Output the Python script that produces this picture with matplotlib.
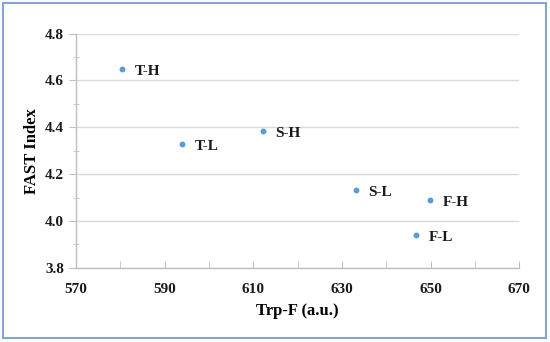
import matplotlib
matplotlib.use("Agg")
import matplotlib.pyplot as plt
from matplotlib.patches import Rectangle
from matplotlib.ticker import MultipleLocator, FixedLocator

labels = ["T-H", "T-L", "S-H", "S-L", "F-H", "F-L"]
trp_f = [580.4, 593.9, 612.1, 633.1, 649.9, 646.8]
fast_index = [4.65, 4.329, 4.385, 4.132, 4.091, 3.941]
x_ticks = [570, 590, 610, 630, 650, 670]

plt.rcParams['font.family'] = ['Liberation Serif', 'DejaVu Serif']

fig = plt.figure(figsize=(5.5, 3.42), dpi=100)
ax = fig.add_axes([0.138, 0.217, 0.806, 0.685])

ax.scatter(trp_f, fast_index, s=18, color='#5B9BD5', zorder=3, linewidths=0)
for x, y, t in zip(trp_f, fast_index, labels):
    ax.annotate(t, (x, y), xytext=(9, -2), textcoords='offset points',
                fontsize=11, fontweight='bold', va='center', ha='left', color='#1a1a1a')

ax.set_xlim(570, 670)
ax.set_ylim(3.8, 4.8)
ax.xaxis.set_major_locator(FixedLocator(x_ticks))
ax.xaxis.set_minor_locator(MultipleLocator(10))
ax.yaxis.set_major_locator(MultipleLocator(0.2))
ax.yaxis.set_minor_locator(MultipleLocator(0.1))
ax.yaxis.set_major_formatter(plt.FuncFormatter(lambda v, p: f"{v:.1f}"))

ax.grid(axis='y', which='major', color='#d9d9d9', linewidth=1)
ax.set_axisbelow(True)
for s in ['top', 'right']:
    ax.spines[s].set_visible(False)
for s in ['left', 'bottom']:
    ax.spines[s].set_color('#bfbfbf')
    ax.spines[s].set_linewidth(1)

ax.tick_params(axis='both', which='both', color='#bfbfbf', labelsize=11, labelcolor='#1a1a1a')
ax.tick_params(axis='y', which='major', direction='out', length=5)
ax.tick_params(axis='y', which='minor', direction='inout', length=5)
ax.tick_params(axis='x', which='both', direction='in', length=5)
ax.tick_params(axis='x', which='major', pad=11)
for lab in ax.get_xticklabels() + ax.get_yticklabels():
    lab.set_fontweight('bold')

ax.set_xlabel('Trp-F (a.u.)', fontsize=12, fontweight='bold', labelpad=5)
ax.set_ylabel('FAST Index', fontsize=12, fontweight='bold', labelpad=4)

fig.patches.append(Rectangle((0.006, 0.012), 0.986, 0.978, transform=fig.transFigure,
                             fill=False, edgecolor='#7FA7D6', linewidth=1.5))

fig.savefig('out.png', dpi=100)
